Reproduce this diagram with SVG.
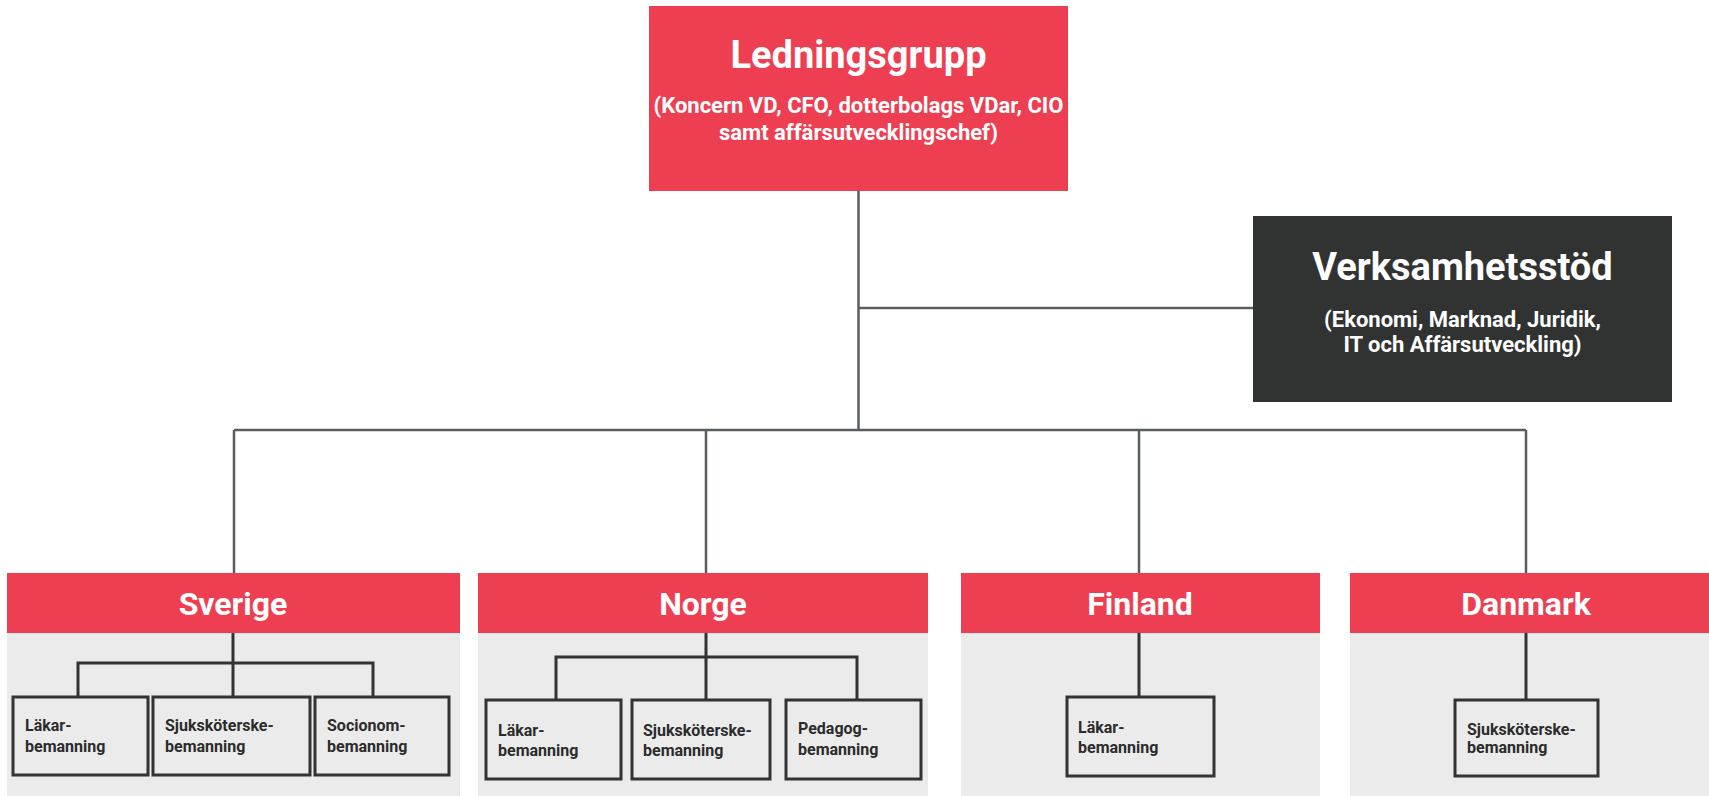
<svg xmlns="http://www.w3.org/2000/svg" width="1709" height="796" viewBox="0 0 1709 796">
<style>
text{font-family:Roboto,"Liberation Sans",sans-serif;font-weight:700}
.red{fill:#ee3f52}
.gray{fill:#ebebeb}
.dark{fill:#313332}
.big{fill:#fff;font-size:38px;text-anchor:middle}
.sub{fill:#fff;font-size:22px;text-anchor:middle}
.country{fill:#fff;font-size:32px;text-anchor:middle}
.leafbox{fill:#ebebeb;stroke:#333;stroke-width:3}
.leaf{fill:#2b2b2b;font-size:16px}
.main{fill:none;stroke:#5a5d60;stroke-width:2.5}
.inner{fill:none;stroke:#333;stroke-width:3}
</style>
<g id="ledningsgrupp">
<rect class="red" x="649" y="6" width="419" height="185"/>
<text class="big" x="858.5" y="68">Ledningsgrupp</text>
<text class="sub" x="858.5" y="113">(Koncern VD, CFO, dotterbolags VDar, CIO</text>
<text class="sub" x="858.5" y="140">samt affärsutvecklingschef)</text>
</g>
<g id="verksamhetsstod">
<rect class="dark" x="1253" y="216" width="419" height="186"/>
<text class="big" x="1462.5" y="280">Verksamhetsstöd</text>
<text class="sub" x="1462.5" y="327">(Ekonomi, Marknad, Juridik,</text>
<text class="sub" x="1462.5" y="352">IT och Affärsutveckling)</text>
</g>
<g id="sverige">
<rect class="gray" x="7" y="633" width="453" height="163"/>
<rect class="red" x="7" y="573" width="453" height="60"/>
<text class="country" x="233" y="615">Sverige</text>
</g>
<g id="norge">
<rect class="gray" x="478" y="633" width="450" height="163"/>
<rect class="red" x="478" y="573" width="450" height="60"/>
<text class="country" x="703" y="615">Norge</text>
</g>
<g id="finland">
<rect class="gray" x="961" y="633" width="359" height="163"/>
<rect class="red" x="961" y="573" width="359" height="60"/>
<text class="country" x="1140" y="615">Finland</text>
</g>
<g id="danmark">
<rect class="gray" x="1350" y="633" width="359" height="163"/>
<rect class="red" x="1350" y="573" width="359" height="60"/>
<text class="country" x="1526" y="615">Danmark</text>
</g>
<g id="connectors">
<path class="main" d="M858.5 191V430M858.5 308H1253M234 430H1526M234 430V573M706 430V573M1139 430V573M1526 430V573"/>
<path class="inner" d="M233 633V663M78 697V663H373V697M233 663V697"/>
<path class="inner" d="M706 633V657M556 700V657H857V700M706 657V700"/>
<path class="inner" d="M1139 633V697"/>
<path class="inner" d="M1526 633V700"/>
</g>
<g id="sverige-lakare">
<rect class="leafbox" x="13" y="697" width="135" height="78"/>
<text class="leaf" x="25" y="731">Läkar-</text>
<text class="leaf" x="25" y="752">bemanning</text>
</g>
<g id="sverige-sjuk">
<rect class="leafbox" x="153" y="697" width="157" height="78"/>
<text class="leaf" x="165" y="731">Sjuksköterske-</text>
<text class="leaf" x="165" y="752">bemanning</text>
</g>
<g id="sverige-socionom">
<rect class="leafbox" x="315" y="697" width="134" height="78"/>
<text class="leaf" x="327" y="731">Socionom-</text>
<text class="leaf" x="327" y="752">bemanning</text>
</g>
<g id="norge-lakare">
<rect class="leafbox" x="486" y="700" width="135" height="79"/>
<text class="leaf" x="498" y="736">Läkar-</text>
<text class="leaf" x="498" y="756">bemanning</text>
</g>
<g id="norge-sjuk">
<rect class="leafbox" x="632" y="700" width="138" height="79"/>
<text class="leaf" x="643" y="736">Sjuksköterske-</text>
<text class="leaf" x="643" y="756">bemanning</text>
</g>
<g id="norge-pedagog">
<rect class="leafbox" x="786" y="700" width="135" height="79"/>
<text class="leaf" x="798" y="734">Pedagog-</text>
<text class="leaf" x="798" y="755">bemanning</text>
</g>
<g id="finland-lakare">
<rect class="leafbox" x="1067" y="697" width="147" height="79"/>
<text class="leaf" x="1078" y="733">Läkar-</text>
<text class="leaf" x="1078" y="753">bemanning</text>
</g>
<g id="danmark-sjuk">
<rect class="leafbox" x="1455" y="700" width="143" height="76"/>
<text class="leaf" x="1467" y="735">Sjuksköterske-</text>
<text class="leaf" x="1467" y="753">bemanning</text>
</g>
</svg>
